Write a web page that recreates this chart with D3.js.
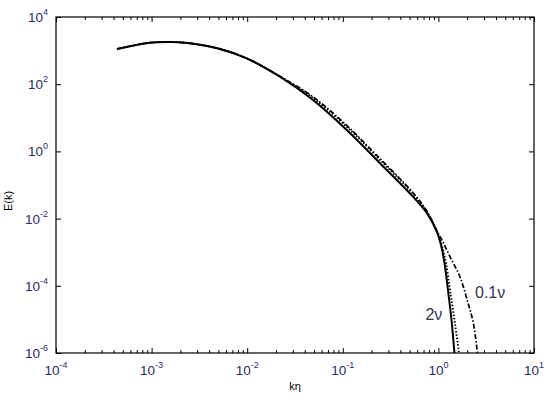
<!DOCTYPE html>
<html>
<head>
<meta charset="utf-8">
<script src="https://cdn.jsdelivr.net/npm/d3@7/dist/d3.min.js"></script>
<style>
  body { margin: 0; background: #fff; }
</style>
</head>
<body>
<div id="chart"></div>
<script>
// spectra, k*eta vs E(k)
const kSolid = [4.35e-4, 9.6e-4, 1.67e-3, 2.52e-3, 5.19e-3, 9.89e-3, 0.0220, 0.0488, 0.110, 0.245, 0.542, 0.755, 0.967, 1.065, 1.158, 1.26, 1.371, 1.472];
const eSolid = [1117, 1718, 1803, 1648, 1117, 590, 167, 33.9, 4.34, 0.443, 0.0449, 0.0147, 3.99e-3, 1.64e-3, 4.78e-4, 7.5e-5, 9.6e-6, 1e-6];

const kDotted = [4.35e-4, 9.6e-4, 1.67e-3, 2.52e-3, 5.19e-3, 9.89e-3, 0.0220, 0.0488, 0.110, 0.245, 0.542, 0.755, 0.967, 1.104, 1.20, 1.322, 1.472, 1.643];
const eDotted = [1117, 1718, 1803, 1648, 1117, 590, 170, 39, 5.4, 0.56, 0.055, 0.0164, 4.1e-3, 1.33e-3, 4.78e-4, 7.5e-5, 9.6e-6, 1e-6];

const kDashDot = [4.35e-4, 9.6e-4, 1.67e-3, 2.52e-3, 5.19e-3, 9.89e-3, 0.0220, 0.0488, 0.110, 0.245, 0.542, 0.755, 0.967, 1.117, 1.322, 1.683, 2.04, 2.32, 2.56];
const eDashDot = [1117, 1718, 1803, 1648, 1117, 590, 172, 42, 5.9, 0.61, 0.059, 0.017, 4.2e-3, 2.01e-3, 7.34e-4, 1.83e-4, 3.08e-5, 7.8e-6, 1e-6];

const xMajor = [1e-4, 1e-3, 1e-2, 1e-1, 1e0, 1e1];
const xMajorExp = ["-4", "-3", "-2", "-1", "0", "1"];
const yMajor = [1e-6, 1e-4, 1e-2, 1e0, 1e2, 1e4];
const yMajorExp = ["-6", "-4", "-2", "0", "2", "4"];

var margin = {top: 17, right: 16, bottom: 49, left: 56},
    width = 550 - margin.left - margin.right,
    height = 402 - margin.top - margin.bottom;

var svg = d3.select("#chart")
  .append("svg")
  .attr("width", 550)
  .attr("height", 402)
  .append("g")
  .attr("transform", "translate(" + margin.left + "," + margin.top + ")");

const x = d3.scaleLog().domain([1e-4, 1e1]).range([0, width]);
const y = d3.scaleLog().domain([1e-6, 1e4]).range([height, 0]);

// minor ticks 2..9 in every decade
var xMinor = [];
for (var d = -4; d < 1; d++) {
  for (var m = 2; m <= 9; m++) xMinor.push(m * Math.pow(10, d));
}

function tickAxis(axis, pos, vals, size) {
  var g = svg.append("g")
    .attr("transform", pos)
    .call(axis.tickValues(vals).tickSize(size).tickSizeOuter(0).tickFormat(""));
  g.select(".domain").remove();
  g.selectAll("line").attr("stroke", "#000").attr("stroke-width", 1);
}

// ticks point inward on all four sides
tickAxis(d3.axisBottom(x), "translate(0," + height + ")", xMinor, -3);
tickAxis(d3.axisBottom(x), "translate(0," + height + ")", xMajor, -5);
tickAxis(d3.axisTop(x), "translate(0,0)", xMinor, -3);
tickAxis(d3.axisTop(x), "translate(0,0)", xMajor, -5);
tickAxis(d3.axisLeft(y), "translate(0,0)", yMajor, -5);
tickAxis(d3.axisRight(y), "translate(" + width + ",0)", yMajor, -5);

svg.append("rect")
  .attr("x", 0).attr("y", 0)
  .attr("width", width).attr("height", height)
  .attr("fill", "none")
  .attr("stroke", "#000")
  .attr("stroke-width", 1.2);

const labelColor = "#2a2a6e";

// x tick labels 10^n
xMajor.forEach(function(v, i) {
  var t = svg.append("text")
    .attr("x", x(v))
    .attr("y", height + 22)
    .attr("text-anchor", "middle")
    .attr("font-family", "Liberation Sans, Arial, sans-serif")
    .attr("fill", labelColor);
  t.append("tspan").attr("font-size", 13.5).text("10");
  t.append("tspan").attr("font-size", 9).attr("dy", -7).text(xMajorExp[i]);
});

// y tick labels 10^n
yMajor.forEach(function(v, i) {
  var t = svg.append("text")
    .attr("x", -8)
    .attr("y", y(v) + 5)
    .attr("text-anchor", "end")
    .attr("font-family", "Liberation Sans, Arial, sans-serif")
    .attr("fill", labelColor);
  t.append("tspan").attr("font-size", 13.5).text("10");
  t.append("tspan").attr("font-size", 9).attr("dy", -7).text(yMajorExp[i]);
});

svg.append("text")
  .attr("x", width / 2)
  .attr("y", height + 37)
  .attr("text-anchor", "middle")
  .attr("font-family", "Liberation Sans, Arial, sans-serif")
  .attr("font-size", 11)
  .text("kη");

svg.append("text")
  .attr("transform", "translate(" + (-44) + "," + (height / 2 + 16) + ") rotate(-90)")
  .attr("text-anchor", "middle")
  .attr("font-family", "Liberation Sans, Arial, sans-serif")
  .attr("font-size", 11)
  .text("E(k)");

svg.append("clipPath").attr("id", "clip")
  .append("rect").attr("width", width).attr("height", height);

const line = d3.line()
  .x(d => x(d[0]))
  .y(d => y(d[1]))
  .curve(d3.curveCatmullRom);

function drawSeries(ks, es, dash, sw) {
  svg.append("path")
    .datum(ks.map((k, i) => [k, es[i]]))
    .attr("clip-path", "url(#clip)")
    .attr("d", line)
    .attr("fill", "none")
    .attr("stroke", "#000")
    .attr("stroke-width", sw)
    .attr("stroke-dasharray", dash);
}

drawSeries(kDashDot, eDashDot, "5,2,1.5,2", 1.7);
drawSeries(kDotted, eDotted, "1.5,1.8", 1.9);
drawSeries(kSolid, eSolid, null, 2);

// curve labels
svg.append("text")
  .attr("x", x(1.3) - 7)
  .attr("y", 320 - margin.top)
  .attr("text-anchor", "end")
  .attr("font-family", "Liberation Sans, Arial, sans-serif")
  .attr("font-size", 16)
  .attr("fill", "#33334d")
  .text("2ν");

svg.append("text")
  .attr("x", 475 - margin.left)
  .attr("y", 298 - margin.top)
  .attr("font-family", "Liberation Sans, Arial, sans-serif")
  .attr("font-size", 16)
  .attr("fill", "#33334d")
  .text("0.1ν");
</script>
</body>
</html>
